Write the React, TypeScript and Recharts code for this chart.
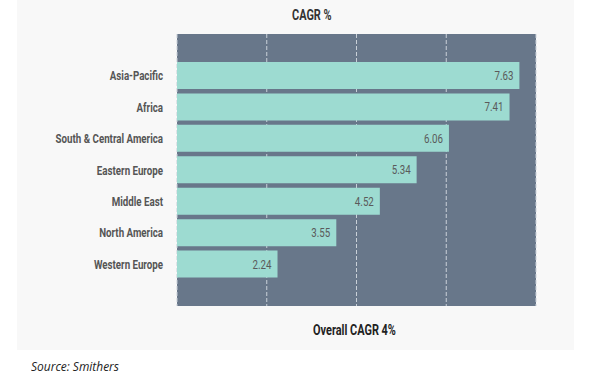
import React from 'react';
import { BarChart, Bar, XAxis, YAxis, CartesianGrid, LabelList } from 'recharts';

const regions = ['Asia-Pacific', 'Africa', 'South & Central America', 'Eastern Europe', 'Middle East', 'North America', 'Western Europe'];
const cagr = [7.63, 7.41, 6.06, 5.34, 4.52, 3.55, 2.24];
const gridTicks = [2, 4, 6, 8];

const data = regions.map((r, i) => ({ region: r, value: cagr[i] }));

const FONT = 'Roboto, "DejaVu Sans", sans-serif';
const SX = 0.78;

const RegionTick = (props: any) => {
  const { x, y, payload } = props;
  return (
    <g transform={`translate(${x},${y})`}>
      <text
        transform={`scale(${SX},1)`}
        textAnchor="end"
        dy="0.36em"
        fill="#555555"
        fontSize={12.5}
        fontWeight={700}
        fontFamily={FONT}
      >
        {payload.value}
      </text>
    </g>
  );
};

const ValueLabel = (props: any) => {
  const { x, y, width, height, value } = props;
  const ex = Number(x) + Number(width) - 6;
  const cy = Number(y) + Number(height) / 2;
  return (
    <g transform={`translate(${ex},${cy})`}>
      <text
        transform={`scale(${SX},1)`}
        textAnchor="end"
        dy="0.36em"
        fill="#5a5a5a"
        fontSize={12.5}
        fontWeight={400}
        fontFamily={FONT}
      >
        {Number(value).toFixed(2)}
      </text>
    </g>
  );
};

export default function App() {
  return (
    <div style={{ position: 'absolute', left: 0, top: 0, width: 601, height: 384, background: '#ffffff', overflow: 'hidden' }}>
      <div style={{ position: 'absolute', left: 17, top: 0, width: 557, height: 350, background: '#f8f8f8' }} />
      <div style={{ position: 'absolute', left: 0, top: 0 }}>
        <BarChart
          width={601}
          height={384}
          data={data}
          layout="vertical"
          margin={{ top: 34, right: 65, bottom: 78, left: 17 }}
        >
          <CartesianGrid
            horizontal={false}
            stroke="#c9d0d8"
            strokeDasharray="4 2"
            fill="#68778a"
            fillOpacity={1}
          />
          <XAxis type="number" domain={[0, 8]} ticks={gridTicks} hide />
          <YAxis
            type="category"
            dataKey="region"
            width={160}
            axisLine={false}
            tickLine={false}
            tickSize={0}
            tickMargin={14}
            padding={{ top: 26, bottom: 26 }}
            tick={<RegionTick />}
          />
          <Bar dataKey="value" fill="#9ddbd1" barSize={27} isAnimationActive={false}>
            <LabelList dataKey="value" content={<ValueLabel />} />
          </Bar>
        </BarChart>
      </div>
      <div style={{ position: 'absolute', left: 292, top: 7, fontFamily: FONT, fontWeight: 700, fontSize: 14, color: '#333', transform: `scaleX(${SX})`, transformOrigin: 'left top', whiteSpace: 'nowrap' }}>
        CAGR %
      </div>
      <div style={{ position: 'absolute', left: 313, top: 322, fontFamily: FONT, fontWeight: 700, fontSize: 14, color: '#222', transform: `scaleX(${SX})`, transformOrigin: 'left top', whiteSpace: 'nowrap' }}>
        Overall CAGR 4%
      </div>
      <div style={{ position: 'absolute', left: 31, top: 357, fontFamily: '"Open Sans", sans-serif', fontStyle: 'italic', fontSize: 13, color: '#222', transform: 'scaleX(0.92)', transformOrigin: 'left top', whiteSpace: 'nowrap' }}>
        Source: Smithers
      </div>
    </div>
  );
}
